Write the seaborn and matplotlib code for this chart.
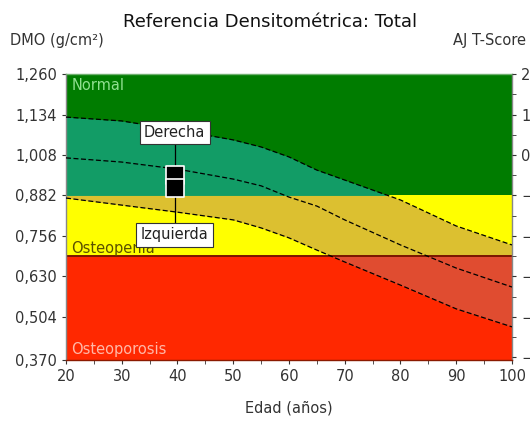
import numpy as np
import pandas as pd
import matplotlib
matplotlib.use("Agg")
import matplotlib.pyplot as plt
from matplotlib.ticker import FixedLocator, MultipleLocator
import seaborn as sns

# reference curves (BMD g/cm2)
ages = [20, 30, 40, 50, 55, 60, 65, 70, 80, 90, 100]
upper_sd = [1.126, 1.114, 1.086, 1.055, 1.033, 1.002, 0.961, 0.930, 0.868, 0.787, 0.728]
mean_ref = [0.999, 0.986, 0.964, 0.933, 0.912, 0.877, 0.849, 0.806, 0.728, 0.656, 0.597]
lower_sd = [0.874, 0.852, 0.830, 0.806, 0.781, 0.750, 0.712, 0.675, 0.603, 0.529, 0.473]

# patient measurements
patient_age = 39.5
patient_labels = ["Derecha", "Izquierda"]
patient_bmd = [0.945, 0.905]
label_bmd = [1.078, 0.760]

# bands and axes
y_ticks = [0.370, 0.504, 0.630, 0.756, 0.882, 1.008, 1.134, 1.260]
t_ticks = [2, 1, 0, -1, -2, -3, -4, -5]
young_mean = 1.008
young_sd = 0.126
osteopenia_cut = 0.882   # T = -1
osteoporosis_cut = 0.693  # T = -2.5
x_ticks = [20, 30, 40, 50, 60, 70, 80, 90, 100]

sns.set_style("white")
plt.rcParams['font.family'] = ['DejaVu Sans']

df = pd.DataFrame({'age': ages, 'upper': upper_sd, 'mean': mean_ref, 'lower': lower_sd})

fig = plt.figure(figsize=(5.3, 4.28), dpi=100)
ax = fig.add_axes([0.1245, 0.159, 0.8415, 0.668])

ymin, ymax = 0.370, 1.260
ax.set_xlim(20, 100)
ax.set_ylim(ymin, ymax)

# background zones
ax.axhspan(osteopenia_cut, ymax, color='#007c00', lw=0, zorder=0)
ax.axhspan(osteoporosis_cut, osteopenia_cut, color='#ffff00', lw=0, zorder=0)
ax.axhspan(ymin, osteoporosis_cut, color='#ff2800', lw=0, zorder=0)

# +/-1 SD band, tinted per zone
zones = [(osteopenia_cut, ymax, '#129c66'),
         (osteoporosis_cut, osteopenia_cut, '#dcc030'),
         (ymin, osteoporosis_cut, '#e04c30')]
xs = np.linspace(20, 100, 400)
up_i = np.interp(xs, ages, upper_sd)
lo_i = np.interp(xs, ages, lower_sd)
for lo, hi, c in zones:
    ax.fill_between(xs, np.clip(lo_i, lo, hi), np.clip(up_i, lo, hi), color=c, lw=0, zorder=1)

ax.axhline(osteoporosis_cut, color='#7a1500', lw=1.4, zorder=2)

for col in ['upper', 'mean', 'lower']:
    sns.lineplot(data=df, x='age', y=col, ax=ax, color='black', lw=0.9,
                 linestyle=(0, (4, 2)), zorder=3)

# patient markers and labels
ax.plot([patient_age, patient_age], [label_bmd[1], label_bmd[0]], color='black', lw=0.9, zorder=4)
sns.scatterplot(x=[patient_age] * 2, y=patient_bmd, ax=ax, marker='s', s=150,
                color='black', edgecolor='white', linewidth=1.2, zorder=5)
for lab, yv in zip(patient_labels, label_bmd):
    ax.text(patient_age, yv, lab, ha='center', va='center', fontsize=10.5, color='#222222',
            bbox=dict(boxstyle='square,pad=0.3', fc='white', ec='#333333', lw=0.8), zorder=6)

ax.text(21, 1.248, 'Normal', color='#90e090', fontsize=10.5, va='top', zorder=4)
ax.text(21, 0.695, 'Osteopenia', color='#5a5000', fontsize=10.5, va='bottom', zorder=4)
ax.text(21, 0.378, 'Osteoporosis', color='#ffb8a8', fontsize=10.5, va='bottom', zorder=4)

ax.set_xlabel('Edad (años)', fontsize=10.5, color='#333333', labelpad=12)
ax.set_ylabel('')
ax.set_xticks(x_ticks)
ax.xaxis.set_minor_locator(MultipleLocator(5))
ax.set_yticks(y_ticks)
ax.set_yticklabels([f"{v:.3f}".replace('.', ',') for v in y_ticks])
ax.tick_params(axis='both', which='both', direction='out', length=3, labelsize=10.5,
               colors='#333333', bottom=True, left=True)
for s in ax.spines.values():
    s.set_linewidth(1.0)
ax.spines['top'].set_color('#70b070')
ax.spines['bottom'].set_color('#8b1a00')
ax.spines['left'].set_color('#888888')
ax.spines['right'].set_color('#888888')

ax2 = ax.twinx()
ax2.set_ylim((ymin - young_mean) / young_sd, (ymax - young_mean) / young_sd)
ax2.yaxis.set_major_locator(FixedLocator(t_ticks))
ax2.yaxis.set_minor_locator(MultipleLocator(0.5))
ax2.tick_params(axis='y', which='both', direction='out', length=3, labelsize=10.5,
                colors='#333333', right=True)
ax2.set_ylabel('')
for s in ax2.spines.values():
    s.set_visible(False)

fig.text(270 / 530, 1 - 22 / 428, 'Referencia Densitométrica: Total', ha='center', va='center',
         fontsize=13, color='#111111')
fig.text(10 / 530, 1 - 41 / 428, 'DMO (g/cm²)', ha='left', va='center', fontsize=10.5, color='#333333')
fig.text(526 / 530, 1 - 41 / 428, 'AJ T-Score', ha='right', va='center', fontsize=10.5, color='#333333')

fig.savefig('out.png', dpi=100)
